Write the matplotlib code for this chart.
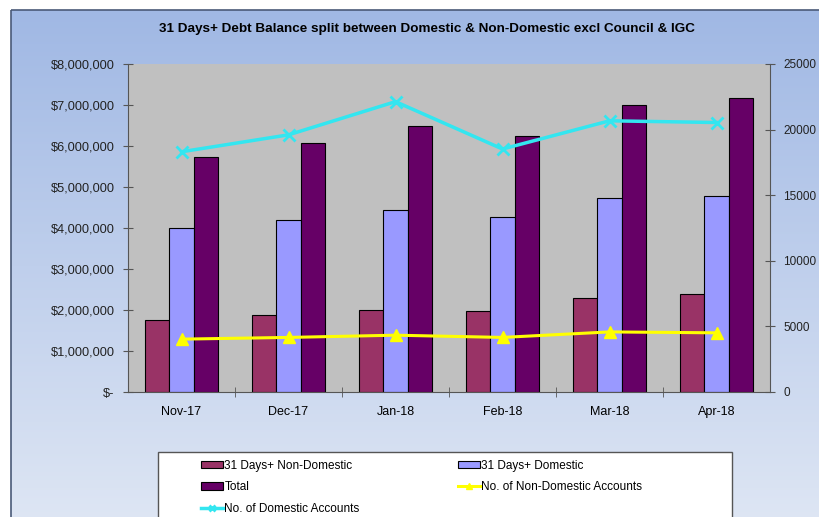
import numpy as np
import matplotlib
matplotlib.use("Agg")
import matplotlib.pyplot as plt
from matplotlib.patches import Rectangle
from matplotlib.ticker import FuncFormatter

plt.rcParams['font.family'] = ['Liberation Sans', 'DejaVu Sans']

months = ['Nov-17', 'Dec-17', 'Jan-18', 'Feb-18', 'Mar-18', 'Apr-18']
non_domestic = [1750000, 1870000, 2010000, 1980000, 2290000, 2380000]
domestic = [3990000, 4200000, 4450000, 4270000, 4730000, 4770000]
total = [5740000, 6080000, 6500000, 6250000, 7010000, 7170000]
non_dom_accounts = [4030, 4160, 4330, 4160, 4580, 4510]
dom_accounts = [18310, 19600, 22130, 18520, 20670, 20540]

fig = plt.figure(figsize=(8.19, 5.17), dpi=100)
W, H = 819, 517

# chart area background (vertical gradient) with border
bg = fig.add_axes([0, 0, 1, 1], zorder=-10)
bg.axis('off')
top_c = np.array([160, 184, 228]) / 255
bot_c = np.array([222, 230, 244]) / 255
t = np.linspace(0, 1, 256)[:, None]
grad = (top_c * (1 - t) + bot_c * t)[:, None, :]
bg.imshow(np.repeat(grad, 2, axis=1), extent=[11, W + 5, H + 5, 10], aspect='auto')
bg.add_patch(Rectangle((11, 10), W, H, fill=False, edgecolor='#4a5a78', lw=1.2))
# legend box
bg.add_patch(Rectangle((158, 452), 574, 80, facecolor='white', edgecolor='#555555', lw=1))
bg.set_xlim(0, W)
bg.set_ylim(H, 0)

fig.text(427 / W, 1 - 29 / H,
         '31 Days+ Debt Balance split between Domestic & Non-Domestic excl Council & IGC',
         ha='center', va='center', fontsize=9.7, fontweight='bold')

ax = fig.add_axes([128 / W, 1 - 392 / H, (770 - 128) / W, (392 - 64) / H])
ax.set_facecolor('#c0c0c0')
x = np.arange(len(months))
w = 0.225
b1 = ax.bar(x - w, non_domestic, w, color='#993366', edgecolor='black', lw=0.8,
            label='31 Days+ Non-Domestic')
b2 = ax.bar(x, domestic, w, color='#9999ff', edgecolor='black', lw=0.8,
            label='31 Days+ Domestic')
b3 = ax.bar(x + w, total, w, color='#660066', edgecolor='black', lw=0.8,
            label='Total')
ax.set_xlim(-0.5, len(months) - 0.5)
ax.set_ylim(0, 8000000)
ax.set_yticks(np.arange(0, 8000001, 1000000))
ax.yaxis.set_major_formatter(FuncFormatter(
    lambda v, p: '$-' if v == 0 else '${:,.0f}'.format(v)))
ax.set_xticks(x)
ax.set_xticklabels(months)
ax.set_xticks(np.arange(0.5, len(months) - 1, 1), minor=True)
ax.tick_params(axis='x', which='major', length=0, pad=10, labelsize=9)
ax.tick_params(axis='x', which='minor', direction='inout', length=7, color='#555555')
ax.tick_params(axis='y', direction='inout', length=7, color='#555555', labelsize=9.2,
               labelcolor='#222222', pad=6)
for s in ['top', 'right']:
    ax.spines[s].set_visible(False)
ax.spines['left'].set_color('#555555')
ax.spines['bottom'].set_color('#555555')

ax2 = ax.twinx()
l1, = ax2.plot(x, non_dom_accounts, color='#ffff00', lw=2.2, marker='^', ms=9,
               label='No. of Non-Domestic Accounts')
l2, = ax2.plot(x, dom_accounts, color='#33e6f0', lw=2.5, marker='x', ms=8, mew=2,
               label='No. of Domestic Accounts')
ax2.set_ylim(0, 25000)
ax2.set_yticks(np.arange(0, 25001, 5000))
ax2.tick_params(axis='y', direction='inout', length=7, color='#555555', labelsize=8.5,
                labelcolor='#222222', pad=6)
for s in ['top', 'left', 'bottom']:
    ax2.spines[s].set_visible(False)
ax2.spines['right'].set_color('#555555')

handles = [b1, b3, l2, b2, l1]
leg = fig.legend(handles, [h.get_label() for h in handles], ncol=2,
                 loc='upper left', bbox_to_anchor=(196 / W, 1 - 455 / H),
                 frameon=False, fontsize=8.5, handlelength=1.9, handletextpad=0.1,
                 columnspacing=8.3, labelspacing=0.82, borderaxespad=0,
                 markerscale=0.55, handleheight=0.6)

fig.savefig('out.png', dpi=100)
